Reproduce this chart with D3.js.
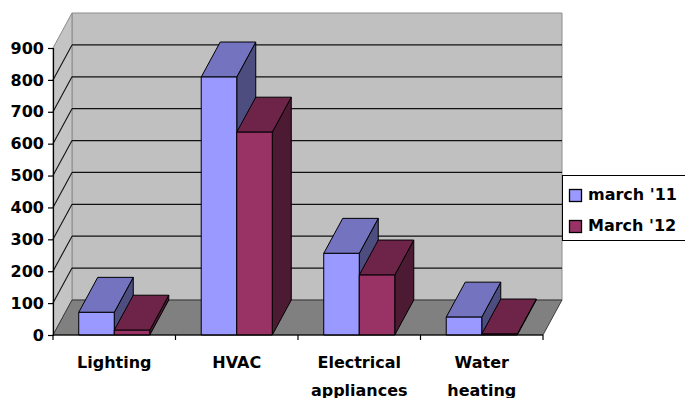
<!DOCTYPE html>
<html>
<head>
<meta charset="utf-8">
<script src="https://cdn.jsdelivr.net/npm/d3@7/dist/d3.min.js"></script>
<style>
  html, body { margin: 0; padding: 0; background: #fff; }
  svg { display: block; }
  text { font-family: "DejaVu Sans", Verdana, sans-serif; font-weight: bold; font-size: 16px; fill: #000; }
</style>
</head>
<body>
<svg id="chart" width="685" height="398"></svg>
<script>
// Energy use by end-use category, two periods
const categories = ["Lighting", "HVAC", "Electrical appliances", "Water heating"];
const seriesNames = ["march '11", "March '12"];
const march11 = [71, 809, 256, 56];
const march12 = [15, 636, 188, 3];
const yTicks = [0, 100, 200, 300, 400, 500, 600, 700, 800, 900];

const seriesValues = [march11, march12];
const frontColors = ["#9999FF", "#993366"];
const topColors = ["#7373C0", "#6E2348"];
const sideColors = ["#4D4D80", "#4D1A33"];

const svg = d3.select("#chart");

// Plot box: front face of the floor and the oblique depth offset
const plotLeft = 53, plotRight = 543, plotBottom = 335, plotTop = 48;
const dx = 19, dy = -35;

const y = d3.scaleLinear().domain([0, 900]).range([plotBottom, plotTop]);
const x0 = d3.scaleBand().domain(categories).range([plotLeft, plotRight]).padding(0);
const bw = x0.bandwidth();
const x1 = d3.scaleBand().domain(seriesNames).range([bw * 0.21, bw * 0.79]).padding(0);

const poly = pts => pts.map(p => p.join(",")).join(" ");

// Walls and floor
const g = svg.append("g");
// back wall
g.append("polygon")
  .attr("points", poly([[plotLeft + dx, y(900) + dy], [plotRight + dx, y(900) + dy], [plotRight + dx, y(0) + dy], [plotLeft + dx, y(0) + dy]]))
  .attr("fill", "#C0C0C0").attr("stroke", "#8C8C8C").attr("stroke-width", 1);
// side wall
g.append("polygon")
  .attr("points", poly([[plotLeft, y(0)], [plotLeft, y(900)], [plotLeft + dx, y(900) + dy], [plotLeft + dx, y(0) + dy]]))
  .attr("fill", "#C4C4C4").attr("stroke", "#8C8C8C").attr("stroke-width", 1);
// floor
g.append("polygon")
  .attr("points", poly([[plotLeft, y(0)], [plotRight, y(0)], [plotRight + dx, y(0) + dy], [plotLeft + dx, y(0) + dy]]))
  .attr("fill", "#808080").attr("stroke", "#222").attr("stroke-width", 0.8);

// Gridlines on back wall and side wall
const inner = yTicks.filter(v => v > 0 && v < 900);
g.selectAll(".grid-back").data(inner).join("line")
  .attr("x1", plotLeft + dx).attr("x2", plotRight + dx)
  .attr("y1", d => y(d) + dy).attr("y2", d => y(d) + dy)
  .attr("stroke", "#111").attr("stroke-width", 1.3);
g.selectAll(".grid-side").data(inner).join("line")
  .attr("x1", plotLeft).attr("x2", plotLeft + dx)
  .attr("y1", d => y(d)).attr("y2", d => y(d) + dy)
  .attr("stroke", "#111").attr("stroke-width", 1.1);

// Bars: front face, top face, right side face
const bars = svg.append("g");
categories.forEach((cat, i) => {
  seriesNames.forEach((s, k) => {
    const v = seriesValues[k][i];
    const xL = x0(cat) + x1(s);
    const w = x1.bandwidth();
    const yt = y(v);
    const yb = y(0);
    const b = bars.append("g").attr("stroke", "#000").attr("stroke-width", 1).attr("stroke-linejoin", "round");
    b.append("polygon")
      .attr("points", poly([[xL + w, yt], [xL + w + dx, yt + dy], [xL + w + dx, yb + dy], [xL + w, yb]]))
      .attr("fill", sideColors[k]);
    b.append("polygon")
      .attr("points", poly([[xL, yt], [xL + w, yt], [xL + w + dx, yt + dy], [xL + dx, yt + dy]]))
      .attr("fill", topColors[k]);
    b.append("rect")
      .attr("x", xL).attr("y", yt).attr("width", w).attr("height", Math.max(0, yb - yt))
      .attr("fill", frontColors[k]);
  });
});

// Value axis
const yAxis = svg.append("g").attr("transform", `translate(${plotLeft},0)`)
  .call(d3.axisLeft(y).tickValues(yTicks).tickSize(5).tickPadding(4).tickFormat(d3.format("d")));
yAxis.select(".domain").attr("stroke", "#000").attr("stroke-width", 1.2);
yAxis.selectAll(".tick line").attr("stroke", "#000").attr("stroke-width", 1.2);
yAxis.selectAll("text").attr("fill", "#000").style("font-size", "16px")
  .style("font-family", "'DejaVu Sans', Verdana, sans-serif").style("font-weight", "bold");

// Category axis: baseline with ticks at category boundaries
const xa = svg.append("g");
xa.append("line").attr("x1", plotLeft).attr("x2", plotRight).attr("y1", plotBottom).attr("y2", plotBottom)
  .attr("stroke", "#000").attr("stroke-width", 1.2);
const bounds = categories.map(c => x0(c)).concat([plotRight]);
xa.selectAll(".xt").data(bounds).join("line")
  .attr("x1", d => d).attr("x2", d => d).attr("y1", plotBottom).attr("y2", plotBottom + 5)
  .attr("stroke", "#000").attr("stroke-width", 1.2);

// Category labels (multi-word names wrap onto two lines)
const lbl = xa.selectAll(".xl").data(categories).join("text")
  .attr("text-anchor", "middle")
  .attr("x", d => x0(d) + bw / 2)
  .attr("y", 368);
lbl.each(function (d) {
  const words = d.split(" ");
  const t = d3.select(this);
  words.forEach((wd, j) => {
    t.append("tspan").attr("x", x0(d) + bw / 2).attr("dy", j === 0 ? 0 : 28).text(wd);
  });
});

// Legend
const lg = svg.append("g");
lg.append("rect").attr("x", 562.5).attr("y", 175.5).attr("width", 140).attr("height", 65)
  .attr("fill", "#fff").attr("stroke", "#000").attr("stroke-width", 1);
seriesNames.forEach((s, k) => {
  lg.append("rect").attr("x", 569.5).attr("y", 189.5 + k * 31).attr("width", 12).attr("height", 12)
    .attr("fill", frontColors[k]).attr("stroke", "#000").attr("stroke-width", 1.3);
  lg.append("text").attr("x", 588).attr("y", 200 + k * 31).text(s);
});
</script>
</body>
</html>
